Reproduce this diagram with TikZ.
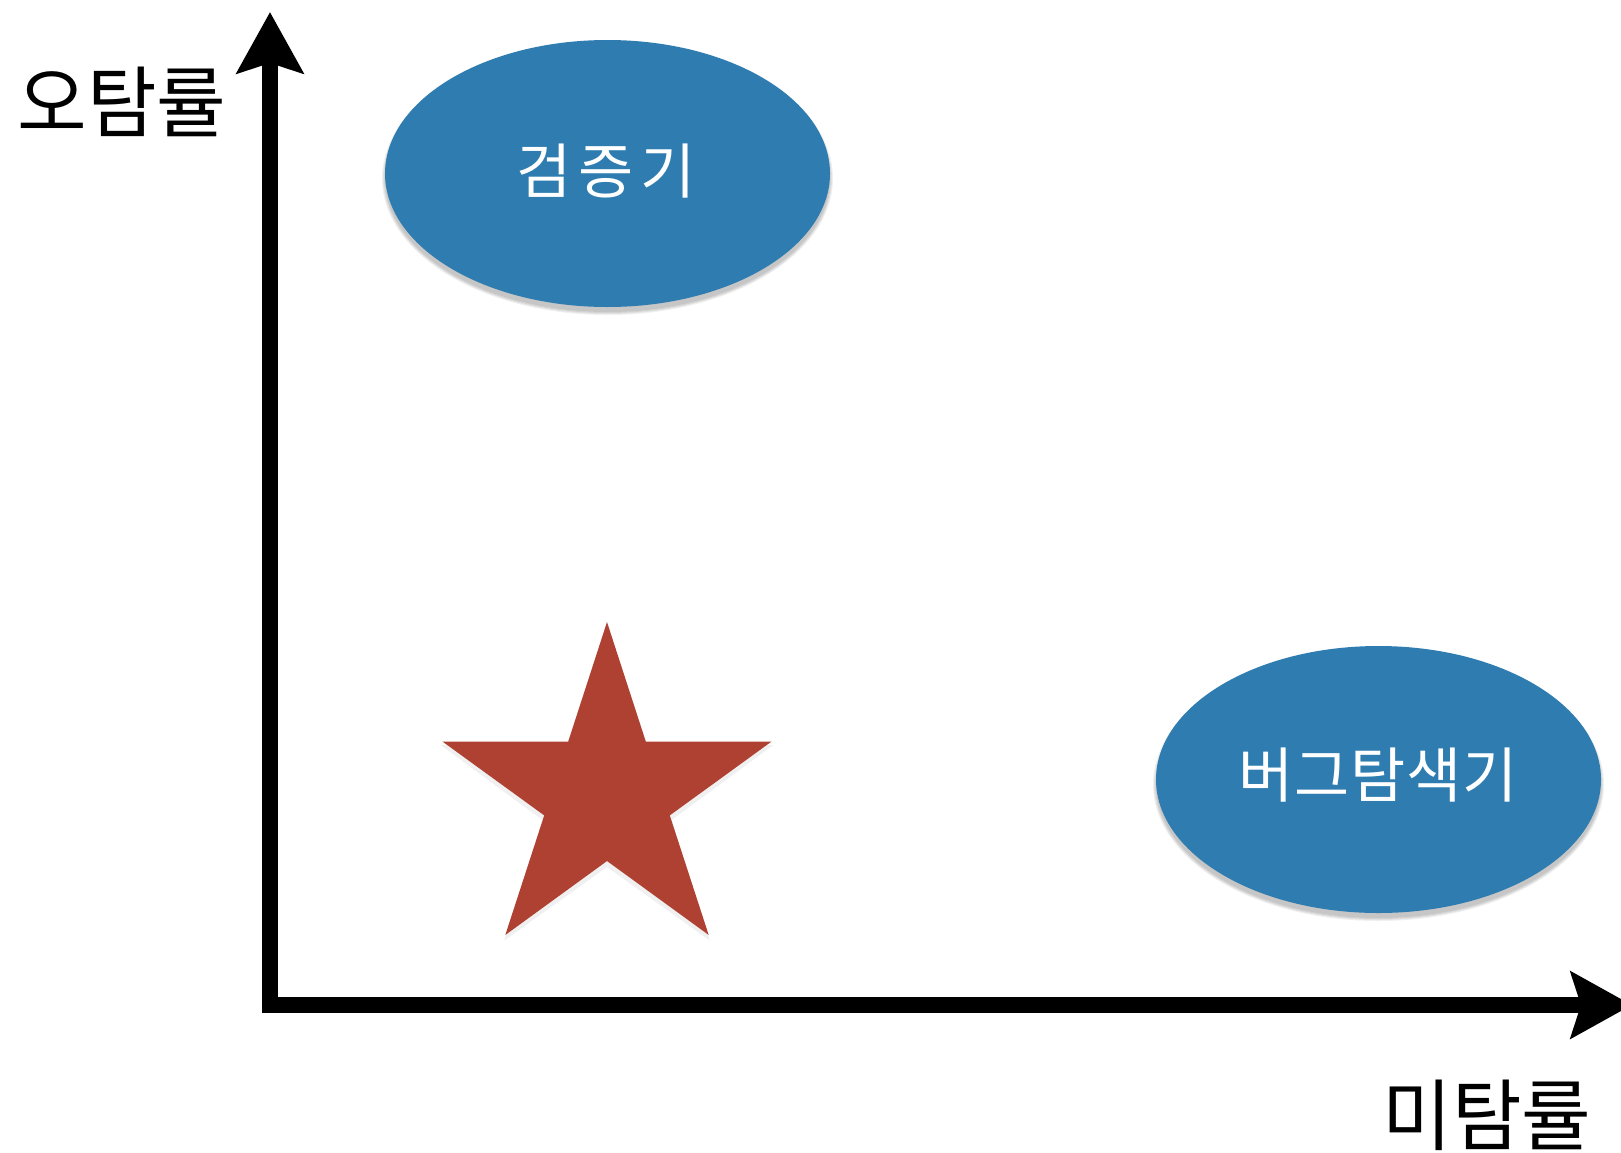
\documentclass[tikz,border=0pt]{standalone}
\usepackage{fontspec}
\newfontfamily\kr{Noto Sans CJK KR}
\usetikzlibrary{arrows.meta,shapes.geometric}
\definecolor{ovalblue}{RGB}{47,125,176}
\definecolor{starred}{RGB}{174,65,49}
\tikzset{
  axisline/.style={line width=16pt, -{Stealth[length=61pt,width=66pt,inset=10pt]}},
  oval/.style={ellipse, minimum width=445pt, minimum height=267pt, inner sep=0pt,
    fill=ovalblue},
  ovaltext/.style={text=white, inner sep=0pt, font=\kr\fontsize{60}{62}\selectfont},
  axislabel/.style={font=\kr\fontsize{78}{80}\selectfont, text=black, inner sep=0pt,
    xscale=0.97, transform shape},
  softshadow/.style={fill=black, opacity=0.06}
}
\begin{document}
\begin{tikzpicture}[x=1pt,y=-1pt]
\useasboundingbox (0,0) rectangle (1621,1152);
\fill[white] (0,0) rectangle (1621,1152);

% shadows of ovals
\foreach \cx/\cy in {607.5/173.5, 1378.5/779.5}{
  \foreach \d in {0,2,4,6}{
    \fill[softshadow] (\cx,\cy+5) ellipse ({222.5+\d/2} and {133.5+\d/2});
  }
}
% ovals
\node[oval] (verifier) at (607.5,173.5) {};
\node[ovaltext] (verifiertext) at (606,171) {검\hspace{7pt}증\hspace{7pt}기};
\node[oval] (bugfinder) at (1378.5,779.5) {};
\node[ovaltext] (bugfindertext) at (1378,775) {버\hspace{1pt}그\hspace{1pt}탐\hspace{1pt}색\hspace{1pt}기};

% star shadow
\begin{scope}[shift={(607,799)}]
  \fill[softshadow] (-90:175) -- (-54:68) -- (-18:175) -- (18:68) -- (54:175) -- (90:68)
    -- (126:175) -- (162:68) -- (198:175) -- (234:68) -- cycle;
\end{scope}
% star
\begin{scope}[shift={(607,795)}]
  \fill[starred] (-90:173) -- (-54:66) -- (-18:173) -- (18:66) -- (54:173) -- (90:66)
    -- (126:173) -- (162:66) -- (198:173) -- (234:66) -- cycle;
\end{scope}

% axes
\coordinate (vstart) at (270,1013);
\coordinate (ytop) at (270,12);
\coordinate (hstart) at (262,1005);
\coordinate (xend) at (1632,1005);
\draw[axisline] (vstart) -- (ytop);
\draw[axisline] (hstart) -- (xend);

% labels
\node[axislabel] (ylabel) at (122,102) {오탐률};
\node[axislabel] (xlabel) at (1487,1115) {미탐률};
\end{tikzpicture}
\end{document}
